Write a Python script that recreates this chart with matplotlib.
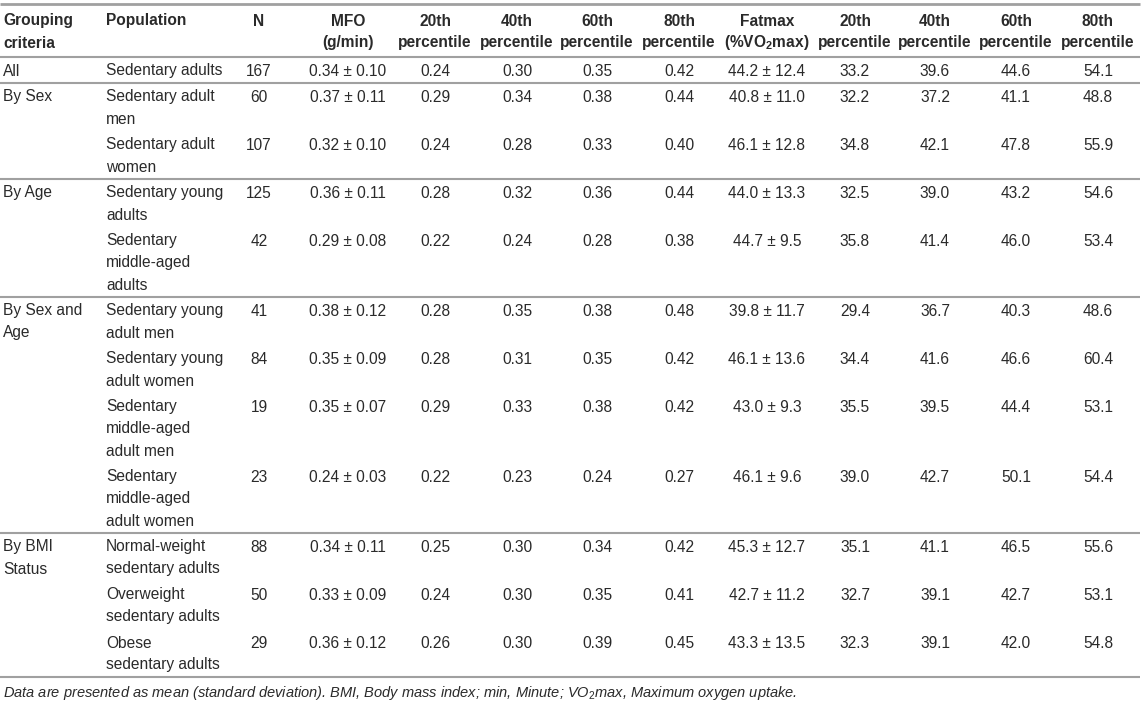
import matplotlib
matplotlib.use("Agg")
import matplotlib.pyplot as plt

plt.rcParams['font.family'] = ['Liberation Sans', 'DejaVu Sans']
plt.rcParams['mathtext.fontset'] = 'custom'
plt.rcParams['mathtext.rm'] = 'Liberation Sans'
plt.rcParams['mathtext.bf'] = 'Liberation Sans:bold'
plt.rcParams['mathtext.it'] = 'Liberation Sans:italic'

# ---------------- data ----------------
headers = ["Grouping\ncriteria", "Population", "N", "MFO\n(g/min)",
           "20th\npercentile", "40th\npercentile", "60th\npercentile", "80th\npercentile",
           "Fatmax\n(%VO$_\\mathbf{2}$max)",
           "20th\npercentile", "40th\npercentile", "60th\npercentile", "80th\npercentile"]
groups = ["All", "By Sex", "By Age", "By Sex and\nAge", "By BMI\nStatus"]
group_sizes = [1, 2, 2, 4, 3]
populations = ["Sedentary adults", "Sedentary adult\nmen", "Sedentary adult\nwomen",
               "Sedentary young\nadults", "Sedentary\nmiddle-aged\nadults",
               "Sedentary young\nadult men", "Sedentary young\nadult women",
               "Sedentary\nmiddle-aged\nadult men", "Sedentary\nmiddle-aged\nadult women",
               "Normal-weight\nsedentary adults", "Overweight\nsedentary adults",
               "Obese\nsedentary adults"]
n_values = [167, 60, 107, 125, 42, 41, 84, 19, 23, 88, 50, 29]
mfo_mean = [0.34, 0.37, 0.32, 0.36, 0.29, 0.38, 0.35, 0.35, 0.24, 0.34, 0.33, 0.36]
mfo_sd = [0.10, 0.11, 0.10, 0.11, 0.08, 0.12, 0.09, 0.07, 0.03, 0.11, 0.09, 0.12]
mfo_p20 = [0.24, 0.29, 0.24, 0.28, 0.22, 0.28, 0.28, 0.29, 0.22, 0.25, 0.24, 0.26]
mfo_p40 = [0.30, 0.34, 0.28, 0.32, 0.24, 0.35, 0.31, 0.33, 0.23, 0.30, 0.30, 0.30]
mfo_p60 = [0.35, 0.38, 0.33, 0.36, 0.28, 0.38, 0.35, 0.38, 0.24, 0.34, 0.35, 0.39]
mfo_p80 = [0.42, 0.44, 0.40, 0.44, 0.38, 0.48, 0.42, 0.42, 0.27, 0.42, 0.41, 0.45]
fat_mean = [44.2, 40.8, 46.1, 44.0, 44.7, 39.8, 46.1, 43.0, 46.1, 45.3, 42.7, 43.3]
fat_sd = [12.4, 11.0, 12.8, 13.3, 9.5, 11.7, 13.6, 9.3, 9.6, 12.7, 11.2, 13.5]
fat_p20 = [33.2, 32.2, 34.8, 32.5, 35.8, 29.4, 34.4, 35.5, 39.0, 35.1, 32.7, 32.3]
fat_p40 = [39.6, 37.2, 42.1, 39.0, 41.4, 36.7, 41.6, 39.5, 42.7, 41.1, 39.1, 39.1]
fat_p60 = [44.6, 41.1, 47.8, 43.2, 46.0, 40.3, 46.6, 44.4, 50.1, 46.5, 42.7, 42.0]
fat_p80 = [54.1, 48.8, 55.9, 54.6, 53.4, 48.6, 60.4, 53.1, 54.4, 55.6, 53.1, 54.8]
footnote = ("Data are presented as mean (standard deviation). BMI, Body mass index; "
            "min, Minute; VO$_\\mathit{2}$max, Maximum oxygen uptake.")

# ---------------- layout ----------------
W, H = 1144, 704
fig = plt.figure(figsize=(W / 100, H / 100), dpi=100)
ax = fig.add_axes([0, 0, 1, 1])
ax.set_xlim(0, W)
ax.set_ylim(H, 0)
ax.axis('off')

TXT = '#2a2a2a'
LINE = '#a0a0a0'
FS = 11.2
LP = 22      # line pitch
PAD_T = 14   # separator -> first line center
PAD_B = 12   # last line center -> separator
GAP = 26     # last line of a row -> first line of next row

col_x = [3, 106, 259, 348, 435, 517, 597, 679, 767, 855, 935, 1016, 1098]
col_ha = ['left', 'left'] + ['center'] * 11


def put(x, yc, s, ha, weight='normal', style='normal', size=FS):
    for i, line in enumerate(s.split('\n')):
        ax.text(x, yc + i * LP + 4.5, line, ha=ha, va='baseline', fontsize=size,
                color=TXT, fontweight=weight, fontstyle=style)


def hline(y, lw):
    ax.plot([0, 1140], [y, y], color=LINE, lw=lw, solid_capstyle='butt')

# header
top = 4
hline(top, 2.0)
hy = 21
for x, ha, h in zip(col_x, col_ha, headers):
    put(x, hy, h, ha, weight='bold')
sep = hy + LP + PAD_B + 2
hline(sep, 1.5)

# body
rows = []
for i in range(len(populations)):
    rows.append([populations[i], f"{n_values[i]}",
                 f"{mfo_mean[i]:.2f} \u00b1 {mfo_sd[i]:.2f}",
                 f"{mfo_p20[i]:.2f}", f"{mfo_p40[i]:.2f}", f"{mfo_p60[i]:.2f}", f"{mfo_p80[i]:.2f}",
                 f"{fat_mean[i]:.1f} \u00b1 {fat_sd[i]:.1f}",
                 f"{fat_p20[i]:.1f}", f"{fat_p40[i]:.1f}", f"{fat_p60[i]:.1f}", f"{fat_p80[i]:.1f}"])

r = 0
for g, size in zip(groups, group_sizes):
    y = sep + PAD_T
    put(col_x[0], y, g, 'left')
    for k in range(size):
        cells = rows[r]
        for x, ha, c in zip(col_x[1:], col_ha[1:], cells):
            put(x, y, c, ha)
        nlines = cells[0].count('\n') + 1
        y_last = y + (nlines - 1) * LP
        y = y_last + GAP
        r += 1
    sep = y_last + PAD_B
    hline(sep, 1.5)

put(3, sep + 15, footnote, 'left', style='italic', size=10.5)

fig.savefig('out.png', dpi=100, facecolor='white')
